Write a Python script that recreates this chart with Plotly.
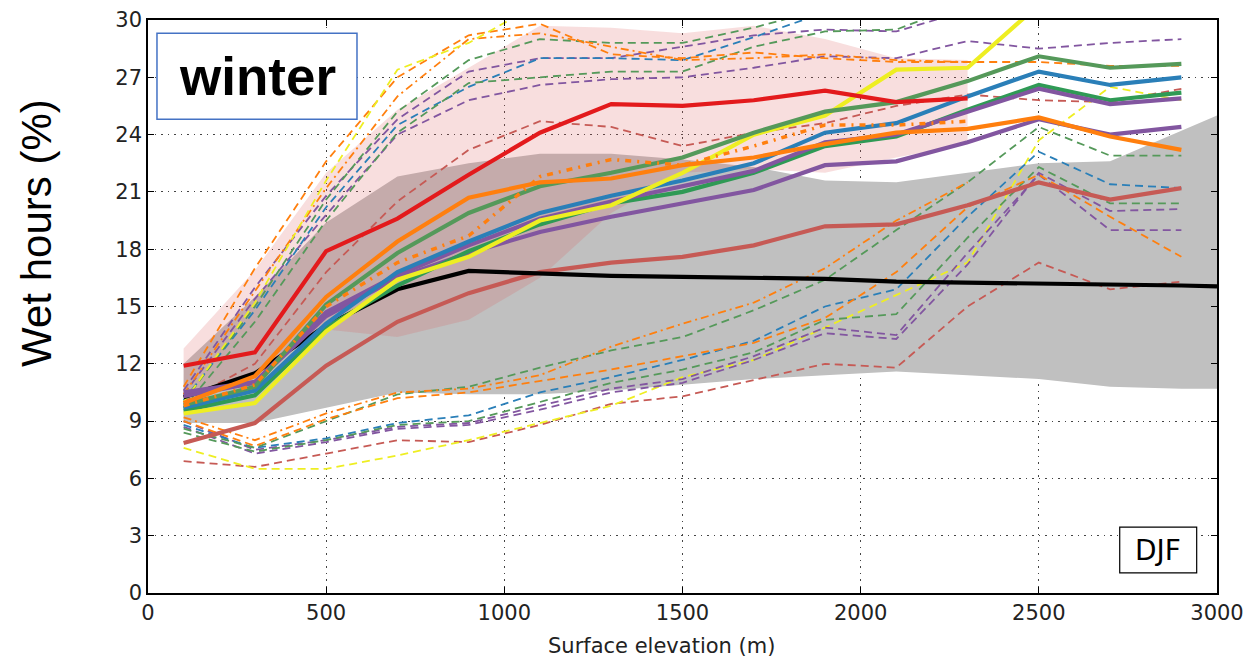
import plotly.graph_objects as go

# Elevation bins (m)
elev = [100, 300, 500, 700, 900, 1100, 1300, 1500, 1700, 1900, 2100, 2300, 2500, 2700, 2900]
elev_obs = elev + [3000]

# Observed wet hours (%) and its spread
obs_mean = [10.25, 11.5, 14.0, 15.9, 16.86, 16.75, 16.6, 16.55, 16.5, 16.45, 16.3, 16.25, 16.2, 16.2, 16.1, 16.05]
obs_low = [8.9, 8.9, 9.7, 10.5, 10.4, 10.4, 10.6, 10.9, 11.2, 11.4, 11.6, 11.4, 11.2, 10.8, 10.7, 10.7]
obs_high = [12.0, 15.5, 19.4, 21.8, 22.5, 23.0, 23.0, 22.7, 22.3, 21.6, 21.5, 22.0, 22.5, 22.6, 24.2, 25.0]

# Spread of the red run (100-2300 m)
red_low = [10.3, 11.5, 13.8, 13.4, 14.3, 16.5, 19.9, 22.0, 22.2, 22.0, 22.8, 23.5]
red_high = [12.8, 16.9, 22.0, 25.3, 27.5, 29.7, 29.6, 29.3, 29.7, 29.0, 28.0, 27.9]

# Ensemble means
red_mean = [11.9, 12.6, 17.9, 19.6, 21.9, 24.1, 25.6, 25.5, 25.8, 26.3, 25.7, 25.9]
orange_mean = [9.95, 11.35, 15.5, 18.4, 20.7, 21.5, 21.7, 22.4, 22.8, 23.5, 24.1, 24.3, 24.9, 23.9, 23.2]
orange_dotted = [9.8, 10.9, 15.0, 17.3, 18.7, 21.8, 22.7, 22.4, 23.4, 24.5, 24.5, 24.7]
green_mean_a = [9.85, 10.8, 15.1, 17.8, 19.9, 21.3, 22.0, 22.8, 24.1, 25.2, 25.7, 26.8, 28.1, 27.5, 27.7]
green_mean_b = [9.55, 10.35, 13.9, 16.1, 17.9, 19.3, 20.4, 21.0, 22.0, 23.4, 23.9, 25.3, 26.6, 25.8, 26.2]
blue_mean = [9.7, 10.6, 14.1, 16.8, 18.4, 19.9, 20.8, 21.6, 22.5, 24.1, 24.6, 26.0, 27.3, 26.6, 27.0]
purple_mean_a = [10.5, 11.05, 14.7, 16.65, 18.2, 19.6, 20.5, 21.3, 22.1, 23.6, 24.0, 25.2, 26.4, 25.6, 25.9]
purple_mean_b = [10.3, 11.0, 14.5, 16.5, 17.8, 18.9, 19.7, 20.4, 21.1, 22.4, 22.6, 23.6, 24.8, 24.0, 24.4]
yellow_mean = [9.4, 9.95, 13.7, 16.4, 17.6, 19.5, 20.3, 22.0, 24.0, 25.0, 27.4, 27.5, 30.8]
indianred_mean = [7.85, 8.9, 11.9, 14.2, 15.7, 16.8, 17.3, 17.6, 18.2, 19.2, 19.3, 20.3, 21.5, 20.6, 21.2]

# Ensemble upper members
yellow_hi = [10.0, 15.2, 21.6, 27.4, 28.8, 30.9]
orange_hi = [10.8, 17.0, 22.6, 27.0, 29.2, 29.8, 28.2, 28.0, 28.3, 28.0, 27.8, 27.8, 27.8, 27.6, 27.6]
orange_hi_dd = [10.4, 15.8, 21.2, 26.0, 29.0, 29.3, 28.6, 27.9, 28.0, 28.2, 27.9, 27.8]
green_hi_a = [9.7, 14.2, 19.5, 24.1, 26.7, 27.0, 27.3, 27.3, 28.6, 29.4, 29.5, 30.9]
green_hi_b = [10.0, 15.0, 20.6, 25.2, 27.9, 29.0, 28.8, 28.8, 29.6, 30.6]
blue_hi = [10.1, 14.8, 20.2, 24.5, 26.5, 28.0, 28.0, 27.9, 29.1, 30.4]
purple_hi_a = [10.4, 15.4, 19.8, 24.0, 25.8, 26.6, 26.9, 27.0, 27.5, 28.1, 28.0, 28.9, 28.5, 28.8, 29.0]
purple_hi_b = [10.6, 16.0, 20.8, 24.8, 27.3, 28.0, 28.0, 28.6, 29.2, 29.5, 29.4, 30.5]
indianred_hi = [10.0, 12.0, 16.8, 20.5, 23.2, 24.7, 24.4, 23.4, 24.1, 24.6, 25.5, 26.1, 25.8, 25.7, 26.4]

# Ensemble lower members
orange_lo_dd = [9.2, 8.0, 9.4, 10.5, 10.7, 11.4, 12.9, 14.1, 15.2, 17.0, 19.5, 21.5]
orange_lo = [9.0, 7.7, 9.1, 10.2, 10.5, 11.1, 11.7, 12.4, 13.1, 14.4, 16.8, 20.2, 21.9, 19.7, 17.6]
green_lo_a = [8.6, 7.6, 9.0, 10.4, 10.8, 11.8, 12.7, 13.4, 14.8, 16.4, 19.0, 21.5, 24.4, 22.9, 22.9]
green_lo_b = [8.4, 7.4, 8.0, 8.8, 9.0, 10.0, 11.0, 11.7, 12.6, 14.3, 14.6, 18.6, 22.3, 20.4, 20.4]
blue_lo = [8.8, 7.6, 8.1, 8.9, 9.3, 10.5, 11.3, 12.2, 13.2, 15.0, 15.9, 19.7, 23.1, 21.4, 21.2]
purple_lo_a = [9.0, 7.5, 8.0, 8.7, 8.9, 9.8, 10.7, 11.2, 12.4, 13.9, 13.5, 17.8, 21.9, 19.0, 19.0]
purple_lo_b = [8.7, 7.3, 7.9, 8.6, 8.8, 9.6, 10.5, 11.0, 12.2, 13.6, 13.3, 17.2, 22.0, 20.0, 20.1]
yellow_lo = [7.6, 6.5, 6.5, 7.2, 8.0, 8.9, 9.8, 11.3, 12.2, 13.9, 15.6, 17.3, 23.7, 26.5, 25.8]
indianred_lo = [6.9, 6.6, 7.3, 8.0, 7.9, 8.8, 9.9, 10.3, 11.15, 12.0, 11.8, 15.0, 17.3, 15.9, 16.3]

x_ticks = [0, 500, 1000, 1500, 2000, 2500, 3000]
y_ticks = [0, 3, 6, 9, 12, 15, 18, 21, 24, 27, 30]

C_RED = "#e31a1c"
C_ORANGE = "#ff7f0e"
C_GREEN_A = "#55995a"
C_GREEN_B = "#2f9a55"
C_BLUE = "#2a7fb8"
C_PURPLE = "#8256a0"
C_YELLOW = "#eeee22"
C_INDIANRED = "#c65a55"

DASH = "8px,5px"
DASHDOT = "8px,4px,2px,4px"

fig = go.Figure()


def band(x, lo, hi, color):
    fig.add_trace(go.Scatter(x=x[:len(lo)], y=lo, mode="lines", line=dict(width=0),
                             hoverinfo="skip", showlegend=False))
    fig.add_trace(go.Scatter(x=x[:len(hi)], y=hi, mode="lines", line=dict(width=0),
                             fill="tonexty", fillcolor=color, hoverinfo="skip", showlegend=False))


def line(y, color, width, dash="solid", x=elev):
    fig.add_trace(go.Scatter(x=x[:len(y)], y=y, mode="lines",
                             line=dict(color=color, width=width, dash=dash),
                             showlegend=False))


band(elev_obs, obs_low, obs_high, "rgb(192,192,192)")
band(elev, red_low, red_high, "rgba(220,90,90,0.2)")

# thin dashed ensemble members
thin = 1.8
for y, c, d in [
    (indianred_hi, C_INDIANRED, DASH),
    (purple_hi_a, C_PURPLE, DASH), (purple_hi_b, C_PURPLE, DASH),
    (blue_hi, C_BLUE, DASH),
    (green_hi_a, C_GREEN_A, DASH), (green_hi_b, C_GREEN_A, DASH),
    (orange_hi_dd, C_ORANGE, DASHDOT), (orange_hi, C_ORANGE, DASH),
    (yellow_hi, C_YELLOW, DASH),
    (indianred_lo, C_INDIANRED, DASH), (yellow_lo, C_YELLOW, DASH),
    (purple_lo_a, C_PURPLE, DASH), (purple_lo_b, C_PURPLE, DASH),
    (blue_lo, C_BLUE, DASH),
    (green_lo_a, C_GREEN_A, DASH), (green_lo_b, C_GREEN_A, DASH),
    (orange_lo, C_ORANGE, DASH), (orange_lo_dd, C_ORANGE, DASHDOT),
]:
    line(y, c, thin, d)

# ensemble means
thick = 4.2
line(indianred_mean, C_INDIANRED, thick)
line(obs_mean, "black", thick, x=elev_obs)
line(purple_mean_b, C_PURPLE, thick)
line(green_mean_b, C_GREEN_B, thick)
line(purple_mean_a, C_PURPLE, thick)
line(blue_mean, C_BLUE, thick)
line(yellow_mean, C_YELLOW, thick)
line(green_mean_a, C_GREEN_A, thick)
line(orange_mean, C_ORANGE, thick)
line(orange_dotted, C_ORANGE, 3.5, "6px,6px,2px,6px")
line(red_mean, C_RED, thick)

tick_font = dict(family="DejaVu Sans", size=21, color="#222222")
axis_common = dict(
    showline=True, linecolor="black", linewidth=1.5, mirror="ticks",
    ticks="inside", ticklen=6, tickcolor="black", tickwidth=1,
    showgrid=True, gridcolor="#444444", gridwidth=1, griddash="1.5px,5px",
    zeroline=False, tickfont=tick_font, automargin=False,
)

fig.update_layout(
    width=1249, height=661,
    margin=dict(l=148, r=32, t=20, b=68),
    paper_bgcolor="white", plot_bgcolor="white",
    showlegend=False,
    xaxis=dict(range=[0, 3000], tickvals=x_ticks, ticktext=[str(v) for v in x_ticks], **axis_common),
    yaxis=dict(range=[0, 30], tickvals=y_ticks, ticktext=[str(v) for v in y_ticks], **axis_common),
    annotations=[
        dict(text="Wet hours (%)", xref="paper", yref="paper", x=-0.105, y=0.628,
             xanchor="center", yanchor="middle", textangle=-90, showarrow=False,
             font=dict(family="Liberation Sans", size=42, color="black")),
        dict(text="Surface elevation (m)", xref="paper", yref="paper", x=0.48, y=-0.093,
             xanchor="center", yanchor="middle", showarrow=False,
             font=dict(family="DejaVu Sans", size=21, color="#222222")),
        dict(text="<b>winter</b>", xref="paper", yref="paper", x=0.102, y=0.902,
             xanchor="center", yanchor="middle", showarrow=False,
             font=dict(family="Liberation Sans", size=53, color="black")),
        dict(text="DJF", xref="paper", yref="paper", x=0.945, y=0.075,
             xanchor="center", yanchor="middle", showarrow=False,
             font=dict(family="DejaVu Sans", size=28, color="black")),
    ],
    shapes=[
        dict(type="rect", xref="paper", yref="paper", x0=0.0084, x1=0.1955, y0=0.827, y1=0.977,
             line=dict(color="#4472c4", width=1.5), fillcolor="white", layer="above"),
        dict(type="rect", xref="paper", yref="paper", x0=0.909, x1=0.981, y0=0.035, y1=0.115,
             line=dict(color="black", width=1.2), fillcolor="white", layer="above"),
    ],
)

fig.write_html("out.html")
